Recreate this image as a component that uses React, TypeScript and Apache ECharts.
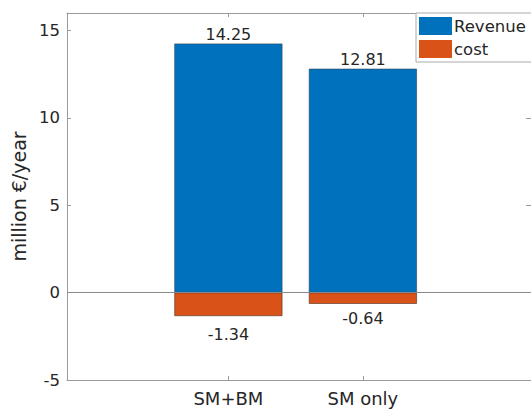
import React, { useEffect, useRef } from "react";
import * as echarts from "echarts";

const categories = ["SM+BM", "SM only"];
const categoryPositions = [1, 2];
const revenue = [14.25, 12.81];
const cost = [-1.34, -0.64];
const yTicks = [-5, 0, 5, 10, 15];
const seriesNames = ["Revenue", "cost"];

const FONT = "DejaVu Sans";
const TEXT = "#262626";
const AXIS = "#9a9a9a";

export default function App() {
  const ref = useRef<HTMLDivElement>(null);
  useEffect(() => {
    if (!ref.current) return;
    const chart = echarts.init(ref.current, undefined, { renderer: "svg" });
    const labelFor = (x: number) => {
      const i = categoryPositions.indexOf(Math.round(x));
      return i >= 0 && Math.abs(x - categoryPositions[i]) < 1e-6 ? categories[i] : "";
    };
    const costDistances = [10, 7];
    const line = { show: true, onZero: false, lineStyle: { color: AXIS, width: 1 } };
    chart.setOption({
      animation: false,
      backgroundColor: "#fff",
      grid: { left: 67, top: 13, width: 466, height: 367, containLabel: false },
      legend: {
        data: seriesNames,
        orient: "vertical",
        left: 416,
        top: 13,
        icon: "rect",
        itemWidth: 33,
        itemHeight: 18,
        itemGap: 5,
        padding: [4, 40, 4, 3],
        borderColor: "#aaaaaa",
        borderWidth: 1,
        backgroundColor: "#fff",
        itemStyle: { borderWidth: 0 },
        textStyle: { fontFamily: FONT, fontSize: 16.5, color: TEXT, lineHeight: 18, padding: [0, 0, 0, -3] },
      },
      xAxis: [
        {
          type: "value",
          position: "bottom",
          min: -0.2,
          max: 3.25,
          splitLine: { show: false },
          axisLine: line,
          axisTick: { show: true, inside: true, length: 4, customValues: categoryPositions, lineStyle: { color: AXIS } },
          axisLabel: {
            customValues: categoryPositions,
            formatter: (v: number) => labelFor(v),
            fontFamily: FONT,
            fontSize: 18,
            color: TEXT,
            margin: 9,
          },
        },
        {
          type: "value",
          position: "top",
          min: -0.2,
          max: 3.25,
          splitLine: { show: false },
          axisLine: line,
          axisTick: { show: true, inside: true, length: 4, customValues: categoryPositions, lineStyle: { color: AXIS } },
          axisLabel: { show: false },
        },
      ],
      yAxis: [
        {
          type: "value",
          position: "left",
          min: -5,
          max: 16,
          name: "million €/year",
          nameLocation: "middle",
          nameRotate: 90,
          nameGap: 28,
          nameTextStyle: { fontFamily: FONT, fontSize: 19, color: TEXT },
          splitLine: { show: false },
          axisLine: line,
          axisTick: { show: true, inside: true, length: 4, customValues: yTicks, lineStyle: { color: AXIS } },
          axisLabel: {
            customValues: yTicks,
            fontFamily: FONT,
            fontSize: 16.5,
            color: TEXT,
            margin: 7,
          },
        },
        {
          type: "value",
          position: "right",
          min: -5,
          max: 16,
          splitLine: { show: false },
          axisLine: line,
          axisTick: { show: true, inside: true, length: 5, customValues: yTicks, lineStyle: { color: AXIS } },
          axisLabel: { show: false },
        },
      ],
      series: [
        {
          name: seriesNames[0],
          type: "bar",
          stack: "total",
          xAxisIndex: 0,
          yAxisIndex: 0,
          barWidth: 108,
          itemStyle: { color: "#0072BD", borderColor: "#2b3f55", borderWidth: 0.6 },
          data: categoryPositions.map((x, i) => [x, revenue[i]]),
          label: {
            show: true,
            position: "top",
            distance: 1,
            fontFamily: FONT,
            fontSize: 16,
            color: TEXT,
            formatter: (p: any) => p.value[1].toFixed(2),
          },
          markLine: {
            silent: true,
            symbol: "none",
            label: { show: false },
            lineStyle: { color: "#8a8a8a", width: 1, type: "solid" },
            data: [{ yAxis: 0 }],
          },
          z: 2,
        },
        {
          name: seriesNames[1],
          type: "bar",
          stack: "total",
          xAxisIndex: 0,
          yAxisIndex: 0,
          barWidth: 108,
          itemStyle: { color: "#D95319", borderColor: "#4a3020", borderWidth: 0.6 },
          data: categoryPositions.map((x, i) => ({
            value: [x, cost[i]],
            label: { distance: costDistances[i] },
          })),
          label: {
            show: true,
            position: "bottom",
            fontFamily: FONT,
            fontSize: 16,
            color: TEXT,
            formatter: (p: any) => p.value[1].toFixed(2),
          },
          z: 2,
        },
      ],
    });
    return () => chart.dispose();
  }, []);
  return <div ref={ref} style={{ width: 531, height: 410, position: "absolute", left: 0, top: 0 }} />;
}
